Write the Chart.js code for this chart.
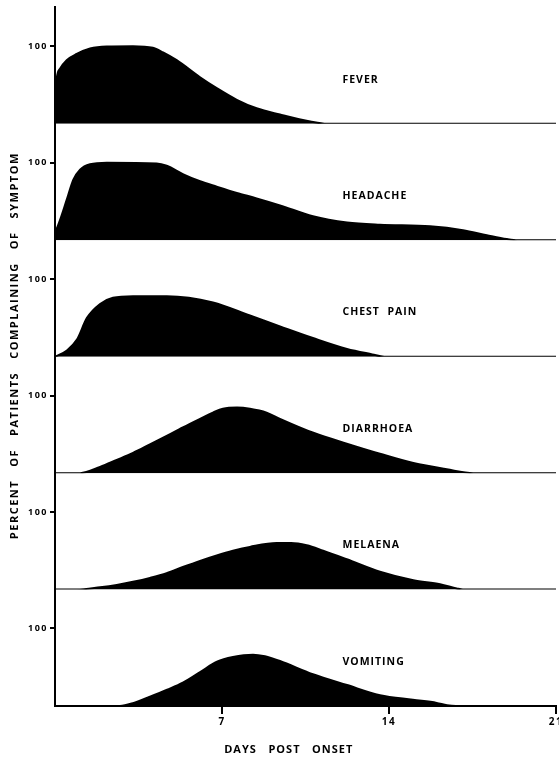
<!DOCTYPE html>
<html>
<head>
<meta charset="utf-8">
<title>Symptoms by day</title>
<script src="https://cdn.jsdelivr.net/npm/chart.js"></script>
<style>
  html, body { margin: 0; padding: 0; background: #fff; overflow: hidden; }
  #wrap { position: relative; width: 580px; height: 758px; }
</style>
</head>
<body>
<div id="wrap"><canvas id="symptomChart"></canvas></div>
<script>
// panels, top to bottom
var symptoms = ["FEVER", "HEADACHE", "CHEST  PAIN", "DIARRHOEA", "MELAENA", "VOMITING"];
var dayTicks = [7, 14, 21];
var percentTicks = [100];
var yTitle = "PERCENT   OF   PATIENTS   COMPLAINING   OF   SYMPTOM";
var xTitle = "DAYS   POST   ONSET";

// [day, percent]
var fever = [[0, 16], [0.07, 58], [0.21, 71], [0.49, 82], [0.91, 90], [1.47, 97], [2.17, 99.6], [3.27, 100],
  [4.1, 98], [4.53, 92], [5.1, 82], [6.08, 60], [6.78, 46], [7.62, 31], [8.45, 20], [9.43, 12], [10.7, 3],
  [11.4, 0], [21, 0]];
var headache = [[0, 9], [0.21, 26], [0.49, 52], [0.77, 78], [1.05, 91], [1.47, 98], [2.17, 100], [4.26, 99],
  [4.68, 96], [5.38, 85], [6.08, 76], [6.78, 69], [7.62, 61], [8.45, 54], [9.43, 45], [10.81, 31], [12.24, 23],
  [13.62, 20], [15.72, 18], [17.1, 13], [18.1, 6.5], [18.94, 1.5], [19.4, 0], [21, 0]];
var chestPain = [[0, 0], [0.5, 8], [0.92, 22], [1.34, 50], [1.89, 68], [2.43, 76], [3.27, 78], [4.69, 78],
  [6.62, 70], [8.17, 53], [9.43, 39], [10.81, 24], [12.24, 10], [13.3, 3], [13.8, 0], [21, 0]];
var diarrhoea = [[0, 0], [1.05, 0], [1.89, 8], [2.59, 17], [3.27, 26], [3.98, 37], [4.68, 48], [5.36, 59],
  [6.08, 70], [6.62, 78], [7.04, 83], [7.63, 84.5], [8.17, 83], [8.87, 78], [9.43, 70], [10.83, 52],
  [12.23, 38], [13.62, 25], [15.02, 13], [16.42, 5], [17.53, 0], [21, 0]];
var melaena = [[0, 0], [0.91, 0], [1.89, 3], [2.59, 6], [3.27, 10], [3.98, 15], [4.68, 21], [5.36, 29],
  [6.08, 37], [6.78, 44], [7.46, 50], [8.17, 55], [9.29, 60], [9.9, 60], [10.55, 57], [11.24, 50],
  [12.23, 39], [13.62, 23], [15.02, 12], [16.14, 7], [16.84, 1.5], [17.1, 0], [21, 0]];
var vomiting = [[0, 0], [2.72, 0], [3.3, 4], [3.98, 12], [4.7, 21], [5.36, 30], [6.1, 44], [6.79, 57],
  [7.46, 63], [8.3, 66], [8.8, 64], [9.14, 61], [9.43, 58], [10.81, 41], [12.24, 27], [13.62, 14], [15, 8],
  [16, 4], [16.43, 1], [16.8, 0], [21, 0]];

var series = [fever, headache, chestPain, diarrhoea, melaena, vomiting];

var FONT = "Open Sans";

var datasets = series.map(function (pts, i) {
  return {
    label: symptoms[i],
    data: pts.map(function (p) { return { x: p[0], y: p[1] }; }),
    yAxisID: "y" + i,
    xAxisID: "x",
    borderColor: "#000",
    backgroundColor: "#000",
    borderWidth: 2,
    pointRadius: 0,
    fill: "origin",
    cubicInterpolationMode: "monotone"
  };
});

var scales = {
  x: {
    type: "linear",
    position: "bottom",
    min: 0,
    max: 21,
    afterBuildTicks: function (s) { s.ticks = dayTicks.map(function (v) { return { value: v }; }); },
    afterFit: function (s) { s.height = 52; },
    ticks: { color: "#000", font: { family: FONT, size: 10, weight: "bold" }, padding: 2, maxRotation: 0, autoSkip: false },
    grid: { drawOnChartArea: false, color: "#000", lineWidth: 2, tickLength: 8 },
    border: { color: "#000", width: 2 }
  }
};

// stacked left axes are laid out bottom-up, so add them from the last panel
for (var i = symptoms.length - 1; i >= 0; i--) {
  scales["y" + i] = {
    type: "linear",
    position: "left",
    stack: "panels",
    stackWeight: 1,
    min: 0,
    max: 150,
    afterBuildTicks: function (s) { s.ticks = percentTicks.map(function (v) { return { value: v }; }); },
    afterFit: function (s) { s.width = 29; },
    ticks: { color: "#000", font: { family: FONT, size: 9, weight: "bold" }, padding: 2 },
    grid: { drawOnChartArea: false, color: "#000", lineWidth: 2, tickLength: 5 },
    border: { color: "#000", width: 2 }
  };
}

// panel names and both axis titles
var panelText = {
  id: "panelText",
  beforeDraw: function (chart) { chart.ctx.letterSpacing = "1.5px"; },
  afterDraw: function (chart) {
    var ctx = chart.ctx, xs = chart.scales.x, area = chart.chartArea;
    ctx.save();
    ctx.fillStyle = "#000";
    ctx.font = "bold 10.5px 'Open Sans'";
    ctx.letterSpacing = "1px";
    ctx.textBaseline = "middle";
    ctx.textAlign = "left";
    symptoms.forEach(function (name, i) {
      var ys = chart.scales["y" + i];
      ctx.fillText(name, xs.getPixelForValue(12.05), ys.getPixelForValue(57));
    });

    ctx.font = "bold 11px 'Open Sans'";
    ctx.letterSpacing = "1px";
    ctx.textAlign = "center";
    ctx.fillText(xTitle, xs.getPixelForValue(9.8), area.bottom + 44);

    ctx.letterSpacing = "1.5px";
    ctx.translate(15, (area.top + area.bottom) / 2 - 11);
    ctx.rotate(-Math.PI / 2);
    ctx.fillText(yTitle, 0, 0);
    ctx.restore();
  }
};

new Chart(document.getElementById("symptomChart").getContext("2d"), {
  type: "line",
  data: { datasets: datasets },
  options: {
    responsive: true,
    maintainAspectRatio: false,
    animation: false,
    layout: { padding: { left: 26, right: 24, top: 6, bottom: 0 } },
    plugins: { legend: { display: false }, tooltip: { enabled: false } },
    scales: scales
  },
  plugins: [panelText]
});
</script>
</body>
</html>
